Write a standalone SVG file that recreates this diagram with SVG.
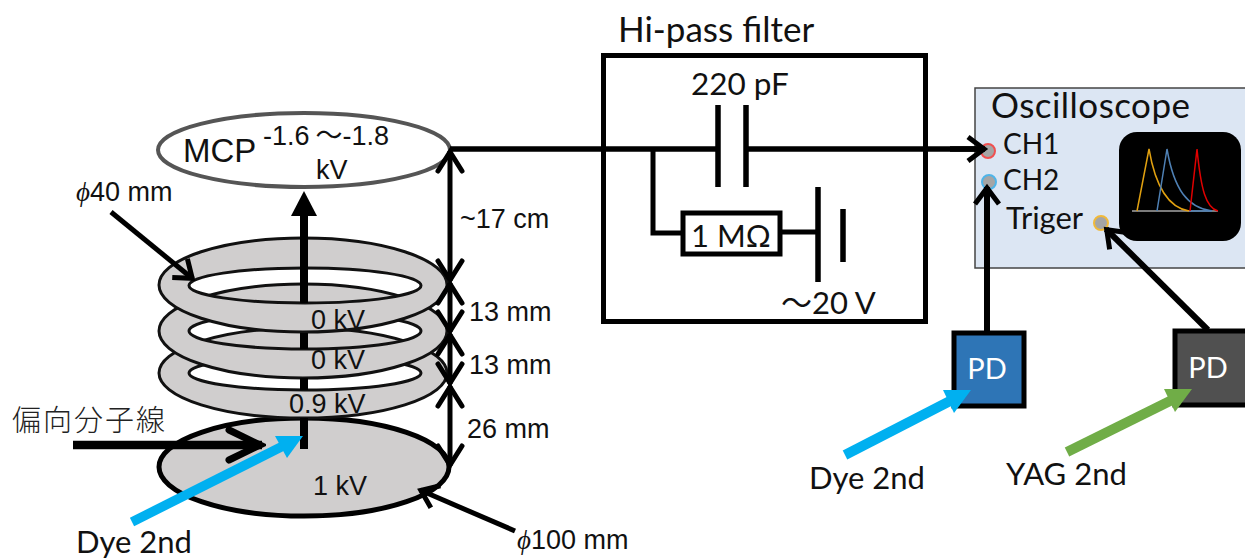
<svg xmlns="http://www.w3.org/2000/svg" width="1245" height="559" viewBox="0 0 1245 559">
<style>
.a{font-family:"Liberation Sans",Arial,sans-serif;fill:#111}
.c{font-family:Lato,"Open Sans",sans-serif;fill:#111}
.ring{fill:#d0cece;stroke:#111;stroke-width:3;fill-rule:evenodd}
.w{fill:none;stroke:#000;stroke-linecap:butt}
.box{fill:none;stroke:#000;stroke-width:5}
</style>
<defs>
<marker id="open" viewBox="-26 -16 30 32" refX="0" refY="0" markerWidth="30" markerHeight="32" orient="auto-start-reverse" markerUnits="userSpaceOnUse"><path d="M-20 -12 L-1 0 L-20 12" fill="none" stroke="#000" stroke-width="5" stroke-linecap="round"/></marker>
<marker id="open2" viewBox="-22 -16 26 32" refX="0" refY="0" markerWidth="26" markerHeight="32" orient="auto" markerUnits="userSpaceOnUse"><path d="M-17 -12 L-1 0 L-17 12" fill="none" stroke="#000" stroke-width="5"/></marker>
<marker id="open3" viewBox="-40 -22 44 44" refX="0" refY="0" markerWidth="44" markerHeight="44" orient="auto" markerUnits="userSpaceOnUse"><path d="M-33 -15 L-2 0 L-33 15" fill="none" stroke="#000" stroke-width="7" stroke-linecap="round"/></marker>
</defs>
<rect width="1245" height="559" fill="#fff"/>

<g id="disk"><ellipse cx="304" cy="467" rx="145" ry="49" fill="#d0cece" stroke="#000" stroke-width="5"/></g>
<g id="ring3"><path class="ring" d="M159 373a144 45 0 1 0 288 0a144 45 0 1 0 -288 0ZM189 373a116 17 0 1 0 232 0a116 17 0 1 0 -232 0Z"/></g>
<g id="ring2"><path class="ring" d="M159 331a144 47 0 1 0 288 0a144 47 0 1 0 -288 0ZM189 331a116 18 0 1 0 232 0a116 18 0 1 0 -232 0Z"/></g>
<g id="ring1"><path class="ring" d="M159 285a144 47 0 1 0 288 0a144 47 0 1 0 -288 0ZM189 285.500a116 17.500 0 1 0 232 0a116 17.500 0 1 0 -232 0Z"/></g>
<g id="mcp"><ellipse cx="304" cy="150" rx="146" ry="37" fill="#fff" stroke="#555" stroke-width="4"/>
<text class="a" x="183" y="162" font-size="33">MCP</text><text class="a" x="263" y="145" font-size="27">-1.6<tspan font-family="Noto Sans CJK JP"> ～</tspan>-1.8</text><text class="a" x="316" y="179" font-size="27">kV</text></g>

<g id="filter">
<rect class="box" x="603.500" y="55.500" width="322" height="266"/>
<path d="M718 105V187M746 105V187M818 187V282M843 209V262" class="w" stroke-width="5.500"/>
<rect x="683" y="213" width="97" height="41" fill="#fff" stroke="#000" stroke-width="5"/>
<text class="c" x="618" y="42" font-size="35">Hi-pass filter</text>
<text class="c" x="691" y="95" font-size="31.500">220 pF</text>
<text class="c" x="691" y="247" font-size="31">1 MΩ</text>
<text class="c" x="781" y="314" font-size="31"><tspan font-family="Noto Sans CJK JP">～</tspan>20 V</text>
</g>

<g id="oscilloscope">
<rect x="975" y="88" width="272" height="180" fill="#dce6f3" stroke="#444" stroke-width="1.500"/>
<text class="c" x="991" y="118" font-size="35" textLength="199">Oscilloscope</text>
<text class="c" x="1003" y="154" font-size="28">CH1</text>
<text class="c" x="1003" y="190" font-size="28">CH2</text>
<text class="c" x="1006" y="229" font-size="31">Triger</text>
<circle cx="988" cy="151" r="7" fill="#a5a5a5" stroke="#f05050" stroke-width="2"/>
<circle cx="989" cy="182" r="7" fill="#a5a5a5" stroke="#4fb4e8" stroke-width="2"/>
<circle cx="1101" cy="223" r="7" fill="#a5a5a5" stroke="#f0b93a" stroke-width="2"/>
<rect x="1119" y="132" width="122" height="109" rx="18" fill="#000"/>
<path d="M1132 211H1218" stroke="#a5a5a5" stroke-width="1.500"/>
<path d="M1137 211L1149 149C1156 190 1170 208 1189 211" fill="none" stroke="#e0a010" stroke-width="1.500"/>
<path d="M1157 211L1167 149C1174 190 1188 208 1212 211H1189" fill="none" stroke="#4f81b5" stroke-width="1.500"/>
<path d="M1190 211L1197 149C1201 190 1206 208 1218 211" fill="none" stroke="#e00000" stroke-width="1.500"/>
</g>

<g id="pd1"><rect x="954" y="333" width="70" height="73" fill="#2e75b6" stroke="#000" stroke-width="5"/><text x="987" y="379" font-size="29" text-anchor="middle" fill="#fff" font-family="Lato,sans-serif">PD</text></g>
<g id="pd2"><rect x="1175" y="331" width="75" height="74" fill="#505050" stroke="#000" stroke-width="5"/><text x="1208" y="378" font-size="29" text-anchor="middle" fill="#fff" font-family="Lato,sans-serif">PD</text></g>

<g id="connectors">
<path d="M304 303V214" class="w" stroke-width="8"/><path d="M304 191L317 216H291Z"/>
<path d="M304 349V333M304 390V378M304 449V418" class="w" stroke-width="8"/>
<path d="M450 151V281" class="w" stroke-width="5" marker-start="url(#open)" marker-end="url(#open)"/>
<path d="M450 283V332" class="w" stroke-width="5" marker-start="url(#open)" marker-end="url(#open)"/>
<path d="M450 334V384" class="w" stroke-width="5" marker-start="url(#open)" marker-end="url(#open)"/>
<path d="M450 386V466" class="w" stroke-width="5" marker-start="url(#open)" marker-end="url(#open)"/>
<path d="M111 212L193 279" class="w" stroke-width="5" marker-end="url(#open2)"/>
<path d="M515 531L420 490" class="w" stroke-width="5" marker-end="url(#open2)"/>
<path d="M73 445H262" class="w" stroke-width="8.500" marker-end="url(#open3)"/>
<path d="M132 522L283 446" stroke="#00b0f0" stroke-width="9.500" fill="none"/><path d="M303 436L275 436L287 458Z" fill="#00b0f0"/>
<path d="M450 149H718M746 149H984" class="w" stroke-width="5.500"/>
<path d="M950 149H985" class="w" stroke-width="5.500" marker-end="url(#open2)"/>
<path d="M653 149V233H682M780 232H818" class="w" stroke-width="5"/>
<path d="M987 331V187" class="w" stroke-width="6" marker-end="url(#open2)"/>
<path d="M1208 330L1106 229" class="w" stroke-width="6" marker-end="url(#open2)"/>
<path d="M845 455L950 401" stroke="#00b0f0" stroke-width="10" fill="none"/><path d="M971 390L943 390L954 413Z" fill="#00b0f0"/>
<path d="M1067 452L1172 400" stroke="#70ad47" stroke-width="10" fill="none"/><path d="M1192 389L1164 389L1175 412Z" fill="#70ad47"/>
</g>

<g id="labels">
<text class="a" x="313" y="495" font-size="27">1 kV</text>
<text class="a" x="289" y="413" font-size="27">0.9 kV</text>
<text class="a" x="311" y="329" font-size="27">0 kV</text>
<text class="a" x="311" y="369" font-size="27">0 kV</text>
<text class="a" x="76" y="201" font-size="27"><tspan font-family="Liberation Serif" font-style="italic">ϕ</tspan>40 mm</text>
<text class="a" x="460" y="228" font-size="27">~17 cm</text>
<text class="a" x="469" y="321" font-size="27">13 mm</text>
<text class="a" x="469" y="374" font-size="27">13 mm</text>
<text class="a" x="467" y="438" font-size="27">26 mm</text>
<text class="a" x="517" y="549" font-size="27"><tspan font-family="Liberation Serif" font-style="italic">ϕ</tspan>100 mm</text>
<text x="12" y="431" font-size="29" letter-spacing="2" fill="#222" font-family="'Noto Sans CJK JP',sans-serif" font-weight="300">偏向分子線</text>
<text class="c" x="76" y="553" font-size="31">Dye 2nd</text>
<text class="c" x="809" y="489" font-size="31">Dye 2nd</text>
<text class="c" x="1006" y="485" font-size="31">YAG 2nd</text>
</g>
</svg>
